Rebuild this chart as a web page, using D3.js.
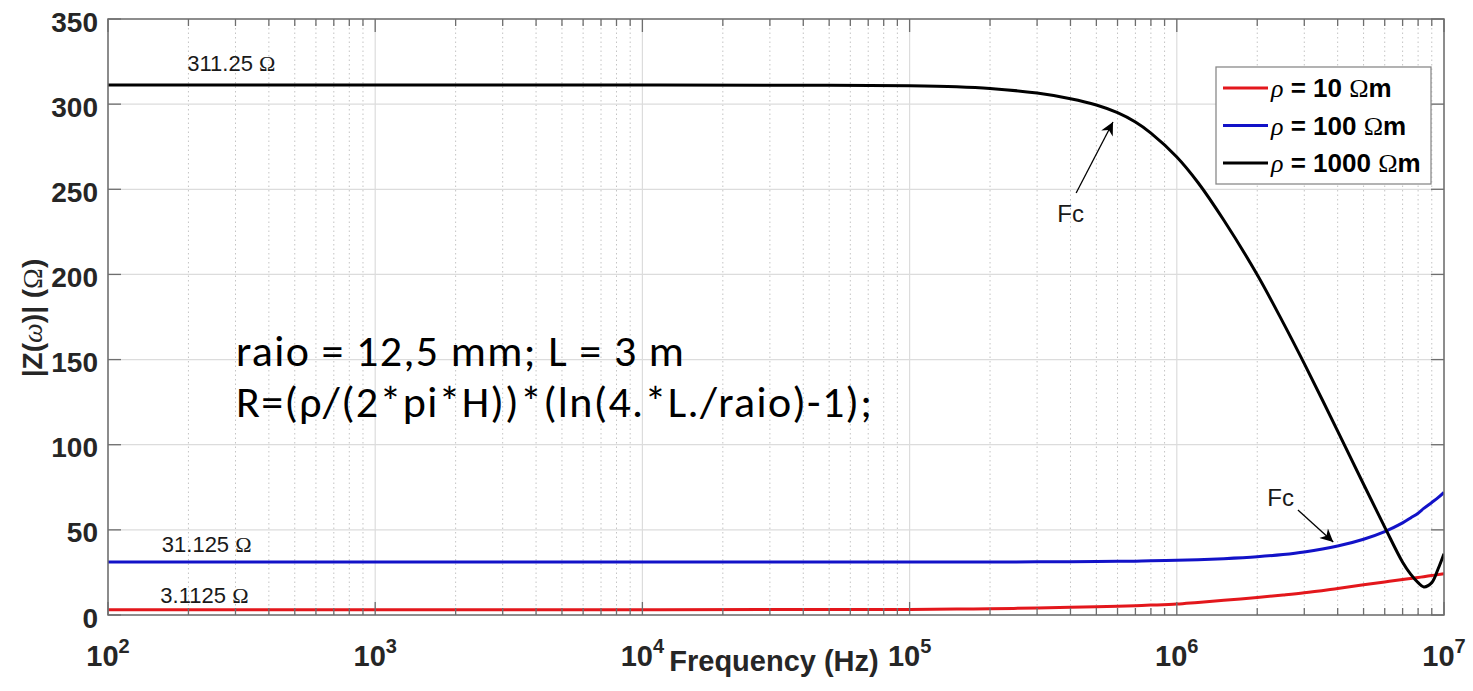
<!DOCTYPE html>
<html>
<head>
<meta charset="utf-8">
<script src="https://cdn.jsdelivr.net/npm/d3@7"></script>
<style>
  html, body { margin: 0; padding: 0; background: #fff; }
  svg { display: block; }
</style>
</head>
<body>
<svg id="chart" width="1473" height="691"></svg>
<script>
// ---------------- data ----------------
const freqs = [1e2, 1e3, 1e4, 5e4, 1e5, 1.5e5, 2e5, 3e5, 4e5, 5e5, 6e5, 7e5, 8e5, 1e6, 1.2e6, 1.5e6,
               2e6, 2.5e6, 3e6, 4e6, 5e6, 6e6, 7e6, 7.5e6, 8e6, 8.4e6, 9e6, 9.5e6, 1e7];
const rho10   = [3.11, 3.11, 3.12, 3.2, 3.3, 3.5, 3.7, 4.1, 4.5, 4.9, 5.2, 5.5, 5.8, 6.4, 7.4, 8.6,
                 10.3, 11.7, 13, 15.6, 17.7, 19.4, 20.8, 21.4, 22, 22.5, 23.2, 23.7, 24.3];
const rho100  = [31.125, 31.125, 31.125, 31.13, 31.14, 31.15, 31.17, 31.2, 31.3, 31.4, 31.5, 31.6, 31.8, 32.1, 32.5, 33.1,
                 34.2, 35.5, 37, 40.5, 44.5, 49, 54.1, 57, 59.8, 62.6, 66.1, 68.9, 72];
const rho1000 = [311.25, 311.25, 311.25, 311.1, 310.8, 310.2, 309.2, 306.5, 303.2, 299.5, 295, 289.5, 283, 269, 254, 231.8,
                 199.8, 171.7, 147.6, 108, 76.8, 51.6, 31, 24, 19, 16.5, 19, 27, 36];
const seriesNames  = ["10", "100", "1000"];
const seriesColors = ["#e3171c", "#1212c8", "#000000"];
const xTickExps = [2, 3, 4, 5, 6, 7];
const yTicks = [0, 50, 100, 150, 200, 250, 300, 350];
const levelLabels = [
  {f: 198, v: 319.4, text: "311.25 "},
  {f: 159, v: 37.0, text: "31.125 "},
  {f: 157, v: 7.0, text: "3.1125 "}
];
const fcNotes = [
  {tf: 3.57e5, tv: 230.8, f0: 4.2e5, v0: 247.8, f1: 5.77e5, v1: 289.5},
  {tf: 2.18e6, tv: 64.0, f0: 2.84e6, v0: 61.7, f1: 3.85e6, v1: 42.9}
];
const noteLines = ["raio = 12,5 mm; L = 3 m", "R=(ρ/(2*pi*H))*(ln(4.*L./raio)-1);"];
const noteWidths = [448, 636];

// ---------------- layout ----------------
const L = 108, R = 1444, T = 19, B = 615;
const svg = d3.select("#chart");
const x = d3.scaleLog().domain([1e2, 1e7]).range([L, R]);
const y = d3.scaleLinear().domain([0, 350]).range([B, T]);
const sans = "'Liberation Sans', Arial, Helvetica, sans-serif";
const serif = "'Liberation Serif', 'Times New Roman', serif";

// grid
const minor = [];
for (let e = 2; e < 7; e++) for (let k = 2; k <= 9; k++) minor.push(k * Math.pow(10, e));
const g = svg.append("g");
g.selectAll("line.minor").data(minor).enter().append("line")
  .attr("x1", d => x(d)).attr("x2", d => x(d)).attr("y1", T).attr("y2", B)
  .attr("stroke", "#c4c4c4").attr("stroke-width", 1).attr("stroke-dasharray", "1.5,3");
g.selectAll("line.majx").data(xTickExps).enter().append("line")
  .attr("x1", d => x(Math.pow(10, d))).attr("x2", d => x(Math.pow(10, d))).attr("y1", T).attr("y2", B)
  .attr("stroke", "#dcdcdc").attr("stroke-width", 1.2);
g.selectAll("line.majy").data(yTicks).enter().append("line")
  .attr("x1", L).attr("x2", R).attr("y1", d => y(d)).attr("y2", d => y(d))
  .attr("stroke", "#dcdcdc").attr("stroke-width", 1.2);

// series
svg.append("clipPath").attr("id", "clip").append("rect")
  .attr("x", L).attr("y", T).attr("width", R - L).attr("height", B - T);
const line = d3.line().x(d => x(d[0])).y(d => y(d[1])).curve(d3.curveCatmullRom.alpha(0.5));
const allSeries = [rho10, rho100, rho1000];
allSeries.forEach((vals, i) => {
  svg.append("path")
    .datum(freqs.map((f, j) => [f, vals[j]]))
    .attr("d", line).attr("fill", "none")
    .attr("stroke", seriesColors[i]).attr("stroke-width", 3)
    .attr("stroke-linejoin", "round")
    .attr("clip-path", "url(#clip)");
});

// axes box + ticks
const axisColor = "#6e6e6e";
svg.append("rect").attr("x", L).attr("y", T).attr("width", R - L).attr("height", B - T)
  .attr("fill", "none").attr("stroke", axisColor).attr("stroke-width", 1.5);
const tk = svg.append("g").attr("stroke", axisColor).attr("stroke-width", 1.3);
xTickExps.forEach(e => {
  const px = x(Math.pow(10, e));
  tk.append("line").attr("x1", px).attr("x2", px).attr("y1", B).attr("y2", B - 13);
  tk.append("line").attr("x1", px).attr("x2", px).attr("y1", T).attr("y2", T + 13);
});
minor.forEach(m => {
  const px = x(m);
  tk.append("line").attr("x1", px).attr("x2", px).attr("y1", B).attr("y2", B - 7);
  tk.append("line").attr("x1", px).attr("x2", px).attr("y1", T).attr("y2", T + 7);
});
yTicks.forEach(v => {
  const py = y(v);
  tk.append("line").attr("x1", L).attr("x2", L + 13).attr("y1", py).attr("y2", py);
  tk.append("line").attr("x1", R).attr("x2", R - 13).attr("y1", py).attr("y2", py);
});

// tick labels
svg.append("g").selectAll("text").data(yTicks).enter().append("text")
  .attr("x", 98).attr("y", d => y(d) + 12.5)
  .attr("text-anchor", "end").attr("font-family", sans).attr("font-weight", "bold")
  .attr("font-size", 28).attr("fill", "#262626").text(d => d);
xTickExps.forEach(e => {
  const t = svg.append("text").attr("x", x(Math.pow(10, e))).attr("y", 666)
    .attr("text-anchor", "middle").attr("font-family", sans).attr("font-weight", "bold")
    .attr("font-size", 29).attr("fill", "#262626");
  t.append("tspan").text("10");
  t.append("tspan").attr("font-size", 20).attr("dy", -13).text(e);
});

// axis titles
svg.append("text").attr("x", 774).attr("y", 671).attr("text-anchor", "middle")
  .attr("font-family", sans).attr("font-weight", "bold").attr("font-size", 29).attr("fill", "#262626")
  .text("Frequency (Hz)");
const yl = svg.append("text").attr("transform", "translate(42,318) rotate(-90)")
  .attr("text-anchor", "middle").attr("font-family", sans).attr("font-weight", "bold")
  .attr("font-size", 28).attr("fill", "#262626");
yl.append("tspan").text("|Z(");
yl.append("tspan").attr("font-family", serif).attr("font-style", "italic").attr("font-weight", "normal").text("ω");
yl.append("tspan").text(")| (");
yl.append("tspan").attr("font-family", serif).attr("font-weight", "normal").text("Ω");
yl.append("tspan").text(")");

// level labels
levelLabels.forEach(d => {
  const t = svg.append("text").attr("x", x(d.f)).attr("y", y(d.v))
    .attr("font-family", sans).attr("font-size", 22).attr("fill", "#1a1a1a");
  t.append("tspan").text(d.text);
  t.append("tspan").attr("font-family", serif).text("Ω");
});

// Fc annotations
const defs = svg.append("defs");
defs.append("marker").attr("id", "arr").attr("viewBox", "0 0 10 10").attr("refX", 10).attr("refY", 5)
  .attr("markerWidth", 17).attr("markerHeight", 13).attr("markerUnits", "userSpaceOnUse").attr("orient", "auto")
  .append("path").attr("d", "M0,0 L10,5 L0,10 L3,5 Z").attr("fill", "#000");
fcNotes.forEach(d => {
  svg.append("text").attr("x", x(d.tf)).attr("y", y(d.tv))
    .attr("font-family", sans).attr("font-size", 24).attr("fill", "#1a1a1a").text("Fc");
  svg.append("line").attr("x1", x(d.f0)).attr("y1", y(d.v0)).attr("x2", x(d.f1)).attr("y2", y(d.v1))
    .attr("stroke", "#000").attr("stroke-width", 1.3).attr("marker-end", "url(#arr)");
});

// free text
noteLines.forEach((s, i) => {
  svg.append("text").attr("x", 236).attr("y", 366 + i * 51)
    .attr("font-family", "Carlito, Calibri, Lato, sans-serif").attr("font-size", 44)
    .attr("textLength", noteWidths[i]).attr("lengthAdjust", "spacing")
    .attr("fill", "#000").text(s);
});

// legend
const lg = svg.append("g");
lg.append("rect").attr("x", 1216).attr("y", 67).attr("width", 215).attr("height", 117)
  .attr("fill", "#fff").attr("stroke", "#8a8a8a").attr("stroke-width", 1.3);
seriesNames.forEach((n, i) => {
  const cy = 88 + i * 37.5;
  lg.append("line").attr("x1", 1223).attr("x2", 1268).attr("y1", cy).attr("y2", cy)
    .attr("stroke", seriesColors[i]).attr("stroke-width", 3);
  const t = lg.append("text").attr("x", 1271).attr("y", cy + 9)
    .attr("font-family", sans).attr("font-weight", "bold").attr("font-size", 26).attr("fill", "#000");
  t.append("tspan").attr("font-family", serif).attr("font-style", "italic").attr("font-weight", "normal").text("ρ");
  t.append("tspan").text(" = " + n + " ");
  t.append("tspan").attr("font-family", serif).attr("font-weight", "normal").text("Ω");
  t.append("tspan").text("m");
});
</script>
</body>
</html>
